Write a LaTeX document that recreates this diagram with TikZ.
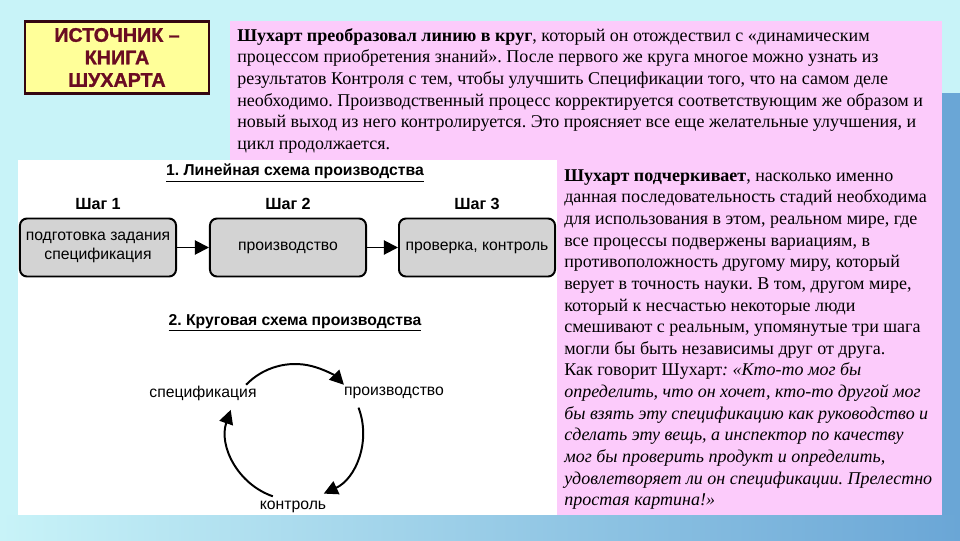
\documentclass[tikz,border=0pt]{standalone}
\usepackage{fontspec}
\setmainfont{Liberation Serif}
\newfontfamily\arialf{Liberation Sans}
\newfontfamily\arialblk[FakeBold=1.2]{Liberation Sans Bold}
\usetikzlibrary{arrows.meta}
\definecolor{bgcyan}{HTML}{C8F3F8}
\definecolor{bgblue}{HTML}{6AA6D6}
\definecolor{panelpink}{HTML}{FCCBFB}
\definecolor{srcyellow}{HTML}{FFFF99}
\definecolor{srcred}{HTML}{6A0C22}
\definecolor{boxgray}{HTML}{D3D3D3}
\frenchspacing

\begin{document}
\begin{tikzpicture}[x=0.025cm,y=-0.025cm,
  stage/.style={draw,line width=1.4pt,rounded corners=5pt,fill=boxgray,minimum width=3.9cm,minimum height=1.45cm,align=center,font=\arialf\fontsize{11.2}{13}\selectfont},
  steplbl/.style={font=\arialf\bfseries\fontsize{11.5}{13}\selectfont},
  flow/.style={-{Triangle[length=10pt,width=10pt]},line width=1.4pt},
  cyclbl/.style={font=\arialf\fontsize{11.2}{13}\selectfont},
  ttl/.style={font=\arialf\bfseries\fontsize{11.2}{13}\selectfont},
  body/.style={anchor=north west,align=left,inner sep=0pt,font=\fontsize{12.8}{15.4}\selectfont}]
\useasboundingbox (0,0) rectangle (960,540);
% background
\fill[bgcyan] (0,0) rectangle (960,540);
\fill[bgblue] (942,93) rectangle (960,540);
\shade[left color=bgcyan,right color=bgblue] (0,515) rectangle (960,540);
\fill[panelpink] (230,21) rectangle (942,515);
\fill[white] (18,160) rectangle (557,515);

\node[draw=srcred!50!black,line width=1.5pt,fill=srcyellow,minimum width=4.6cm,minimum height=1.8cm,align=center,text=srcred,font=\arialblk\fontsize{14}{16}\selectfont] (src) at (117,57.5) {ИСТОЧНИК –\\КНИГА\\ШУХАРТА};

\node[body] (txt1) at (237,28) {\textbf{Шухарт преобразовал линию в круг}, который он отождествил с «динамическим\\
процессом приобретения знаний». После первого же круга многое можно узнать из\\
результатов Контроля с тем, чтобы улучшить Спецификации того, что на самом деле\\
необходимо. Производственный процесс корректируется соответствующим же образом и\\
новый выход из него контролируется. Это проясняет все еще желательные улучшения, и\\
цикл продолжается.};

\node[body] (txt2) at (564,169) {\textbf{Шухарт подчеркивает}, насколько именно\\
данная последовательность стадий необходима\\
для использования в этом, реальном мире, где\\
все процессы подвержены вариациям, в\\
противоположность другому миру, который\\
верует в точность науки. В том, другом мире,\\
который к несчастью некоторые люди\\
смешивают с реальным, упомянутые три шага\\
могли бы быть независимы друг от друга.\\
Как говорит Шухарт\textit{: «Кто-то мог бы}\\
\textit{определить, что он хочет, кто-то другой мог}\\
\textit{бы взять эту спецификацию как руководство и}\\
\textit{сделать эту вещь, а инспектор по качеству}\\
\textit{мог бы проверить продукт и определить,}\\
\textit{удовлетворяет ли он спецификации. Прелестно}\\
\textit{простая картина!»}};

% linear scheme
\node[ttl] (ttl1) at (295,173) {\underline{1. Линейная схема производства}};
\node[steplbl] (s1) at (98,204) {Шаг 1};
\node[steplbl] (s2) at (288,204) {Шаг 2};
\node[steplbl] (s3) at (477,204) {Шаг 3};
\node[stage] (b1) at (98,247.5) {подготовка задания\\спецификация};
\node[stage] (b2) at (288,247.5) {производство};
\node[stage] (b3) at (477,247.5) {проверка, контроль};
\draw[flow] (b1) -- (b2);
\draw[flow] (b2) -- (b3);

% circular scheme
\node[ttl] (ttl2) at (295,323) {\underline{2. Круговая схема производства}};
\node[cyclbl] (spec) at (203,393) {спецификация};
\node[cyclbl] (prod) at (394,393) {производство};
\node[cyclbl] (ctrl) at (293,507) {контроль};
\coordinate (ctr) at (295,432);
\coordinate (a1) at ([shift={(-136:68)}]ctr);
\coordinate (a2) at ([shift={(-21:68)}]ctr);
\coordinate (a3) at ([shift={(109:68)}]ctr);
\draw[flow] (a1) arc[start angle=-136,end angle=-44,radius=68];
\draw[flow] (a2) arc[start angle=-21,end angle=65,radius=68];
\draw[flow] (a3) arc[start angle=109,end angle=199,radius=68];
\end{tikzpicture}
\end{document}
